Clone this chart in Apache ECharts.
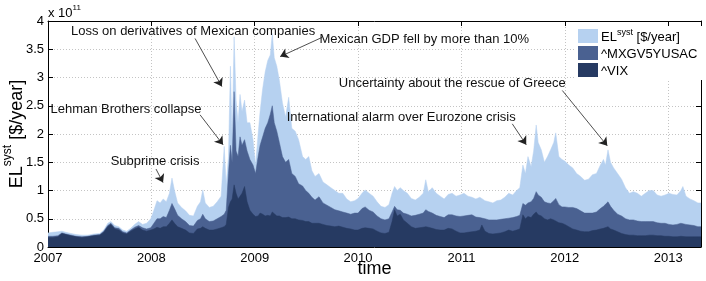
<!DOCTYPE html>
<html>
<head>
<meta charset="utf-8">
<script src="https://cdn.jsdelivr.net/npm/echarts@6/dist/echarts.min.js"></script>
<style>
html,body{margin:0;padding:0;background:#fff;}
#chart{width:706px;height:281px;}
</style>
</head>
<body>
<div id="chart"></div>
<script>
// ---- Data (values in units of 1e11 $/year) ----
const dates = [
'2007-01-01','2007-01-18','2007-02-05','2007-02-19','2007-03-05','2007-03-23','2007-04-10','2007-05-01','2007-05-22','2007-06-12',
'2007-07-03','2007-07-17','2007-07-31','2007-08-11','2007-08-25','2007-09-08','2007-09-22','2007-10-06','2007-10-20','2007-11-03',
'2007-11-17','2007-12-01','2007-12-15','2007-12-30',
'2008-01-10','2008-01-21','2008-02-01','2008-02-12','2008-02-23','2008-03-05','2008-03-14','2008-03-23','2008-04-03','2008-04-17',
'2008-05-01','2008-05-15','2008-05-29','2008-06-12','2008-06-23','2008-07-01','2008-07-10','2008-07-24','2008-08-07','2008-08-21',
'2008-09-04','2008-09-15','2008-09-22','2008-09-30','2008-10-07','2008-10-13','2008-10-20','2008-10-27','2008-11-03','2008-11-10',
'2008-11-17','2008-11-26','2008-12-05','2008-12-15','2008-12-26',
'2009-01-04','2009-01-13','2009-01-20','2009-01-29','2009-02-07','2009-02-16','2009-02-25','2009-03-04','2009-03-11','2009-03-20',
'2009-03-29','2009-04-09','2009-04-20','2009-05-01','2009-05-12','2009-05-24','2009-06-05','2009-06-19','2009-06-30','2009-07-11',
'2009-07-22','2009-08-02','2009-08-16','2009-08-30','2009-09-13','2009-09-27','2009-10-11','2009-10-25','2009-11-08','2009-11-22',
'2009-12-06','2009-12-20',
'2010-01-01','2010-01-15','2010-01-26','2010-02-09','2010-02-23','2010-03-09','2010-03-23','2010-04-06','2010-04-20','2010-05-01',
'2010-05-10','2010-05-19','2010-05-30','2010-06-10','2010-06-24','2010-07-08','2010-07-22','2010-08-05','2010-08-19','2010-08-28',
'2010-09-06','2010-09-20','2010-10-04','2010-10-18','2010-11-01','2010-11-15','2010-11-29','2010-12-13','2010-12-27',
'2011-01-10','2011-01-24','2011-02-07','2011-02-21','2011-03-07','2011-03-14','2011-03-25','2011-04-08','2011-04-22','2011-05-06',
'2011-05-20','2011-06-03','2011-06-17','2011-07-01','2011-07-15','2011-07-26','2011-08-06','2011-08-15','2011-08-24','2011-09-04',
'2011-09-13','2011-09-22','2011-09-29','2011-10-10','2011-10-21','2011-11-01','2011-11-12','2011-11-23','2011-11-30','2011-12-11',
'2011-12-22',
'2012-01-01','2012-01-15','2012-01-29','2012-02-12','2012-02-26','2012-03-11','2012-03-25','2012-04-08','2012-04-22','2012-05-06',
'2012-05-17','2012-05-24','2012-06-02','2012-06-11','2012-06-22','2012-07-06','2012-07-20','2012-08-03','2012-08-17','2012-08-31',
'2012-09-14','2012-09-28','2012-10-12','2012-10-26','2012-11-09','2012-11-23','2012-12-07','2012-12-21',
'2013-01-04','2013-01-18','2013-02-01','2013-02-15','2013-02-22','2013-03-05','2013-03-19','2013-04-02','2013-04-16','2013-04-27'
];
const elSyst = [
0.25,0.26,0.27,0.28,0.26,0.24,0.22,0.21,0.21,0.23,
0.24,0.30,0.42,0.45,0.38,0.36,0.30,0.28,0.33,0.40,
0.45,0.40,0.42,0.50,
0.65,0.82,0.78,0.85,0.80,0.95,1.22,1.00,0.78,0.70,
0.64,0.56,0.55,0.72,0.80,1.01,0.78,0.70,0.72,0.80,
0.90,1.78,1.10,1.60,3.20,1.90,3.72,2.60,2.20,2.70,
2.40,2.60,2.20,2.20,1.90,
1.45,2.00,2.40,2.80,3.10,3.30,3.40,3.78,3.35,3.20,
2.95,2.55,2.30,2.65,2.10,2.05,1.90,1.60,1.55,1.60,
1.35,1.25,1.30,1.15,1.10,1.05,1.00,0.95,0.95,0.85,
0.80,0.82,
0.86,0.95,1.01,0.95,0.90,0.80,0.72,0.70,0.75,0.95,
1.07,1.00,1.05,1.00,0.95,0.86,0.83,0.88,0.95,1.19,
0.98,1.05,0.95,0.90,0.85,0.93,0.95,0.90,0.92,
0.95,0.90,0.88,0.85,0.88,0.90,0.82,0.80,0.78,0.82,
0.83,0.88,0.95,0.92,1.00,1.05,1.45,1.30,1.60,1.42,
1.70,2.16,1.85,1.72,1.50,1.60,1.72,1.85,2.02,1.60,
1.55,
1.52,1.45,1.40,1.30,1.25,1.18,1.20,1.28,1.30,1.45,
1.55,1.45,1.72,1.50,1.40,1.30,1.20,1.05,0.95,0.98,
0.95,0.90,0.95,1.00,1.00,0.92,0.90,0.92,
0.95,0.93,0.92,1.00,1.07,0.90,0.85,0.82,0.78,0.78
];
const mxgv = [
0.19,0.19,0.20,0.25,0.23,0.21,0.19,0.18,0.19,0.21,
0.22,0.28,0.38,0.42,0.34,0.33,0.27,0.25,0.30,0.35,
0.38,0.34,0.32,0.34,
0.42,0.50,0.50,0.54,0.52,0.65,0.77,0.68,0.56,0.50,
0.45,0.38,0.37,0.47,0.50,0.58,0.50,0.45,0.46,0.50,
0.54,0.58,0.65,1.30,1.80,1.50,2.75,1.70,1.60,1.95,
1.80,1.90,1.70,1.55,1.45,
1.30,1.60,1.80,1.95,2.10,2.20,2.35,2.50,2.20,2.05,
1.85,1.60,1.50,1.55,1.30,1.25,1.12,1.08,1.00,0.95,
0.88,0.83,0.89,0.78,0.74,0.70,0.66,0.64,0.62,0.60,
0.58,0.60,
0.60,0.68,0.71,0.65,0.62,0.55,0.50,0.48,0.50,0.62,
0.72,0.66,0.65,0.60,0.58,0.55,0.56,0.58,0.60,0.66,
0.63,0.60,0.56,0.54,0.52,0.57,0.57,0.55,0.54,
0.55,0.56,0.57,0.53,0.52,0.52,0.50,0.48,0.48,0.48,
0.49,0.50,0.51,0.52,0.54,0.56,0.77,0.74,0.78,0.80,
0.86,0.98,0.92,0.88,0.80,0.78,0.77,0.82,0.86,0.75,
0.71,
0.71,0.70,0.70,0.68,0.64,0.60,0.60,0.60,0.62,0.68,
0.72,0.75,0.80,0.72,0.65,0.58,0.55,0.50,0.48,0.48,
0.46,0.45,0.45,0.45,0.45,0.43,0.42,0.42,
0.40,0.39,0.40,0.42,0.43,0.40,0.39,0.38,0.36,0.36
];
const vix = [
0.17,0.17,0.18,0.24,0.22,0.20,0.18,0.17,0.18,0.20,
0.21,0.26,0.36,0.40,0.32,0.30,0.25,0.23,0.28,0.32,
0.35,0.30,0.28,0.30,
0.32,0.35,0.33,0.36,0.36,0.42,0.48,0.42,0.36,0.33,
0.30,0.25,0.24,0.32,0.33,0.36,0.33,0.30,0.30,0.32,
0.34,0.36,0.40,0.70,0.80,0.85,1.10,0.95,0.85,0.90,
0.95,1.07,0.80,0.65,0.58,
0.54,0.55,0.60,0.58,0.55,0.56,0.55,0.62,0.60,0.55,
0.55,0.52,0.52,0.53,0.50,0.50,0.48,0.47,0.45,0.45,
0.42,0.42,0.42,0.40,0.38,0.37,0.36,0.37,0.35,0.33,
0.32,0.30,
0.30,0.33,0.34,0.33,0.32,0.28,0.25,0.24,0.26,0.45,
0.66,0.55,0.58,0.48,0.42,0.36,0.33,0.34,0.35,0.36,
0.35,0.33,0.31,0.30,0.30,0.33,0.32,0.28,0.25,
0.25,0.26,0.27,0.28,0.30,0.39,0.28,0.24,0.23,0.24,
0.25,0.27,0.30,0.28,0.30,0.32,0.57,0.50,0.54,0.52,
0.58,0.62,0.57,0.55,0.50,0.48,0.50,0.48,0.46,0.43,
0.42,
0.40,0.36,0.32,0.30,0.28,0.27,0.27,0.29,0.30,0.32,
0.33,0.34,0.36,0.32,0.30,0.27,0.24,0.22,0.21,0.21,
0.20,0.20,0.20,0.21,0.21,0.20,0.20,0.19,
0.19,0.18,0.18,0.19,0.20,0.18,0.18,0.18,0.18,0.18
];
const seriesNames = ['ELsyst', '^MXGV5YUSAC', '^VIX'];
const yearTicks = [2007, 2008, 2009, 2010, 2011, 2012, 2013];
// annotations: text, text centre, arrow start, arrow tip (decimal year, value)
const annotations = [
  {text: 'Loss on derivatives of Mexican companies', at: [2008.404, 3.81], from: [2008.423, 3.69], to: [2008.682, 2.84]},
  {text: 'Mexican GDP fell by more than 10%', at: [2010.640, 3.67], from: [2009.652, 3.71], to: [2009.246, 3.37]},
  {text: 'Lehman Brothers collapse', at: [2007.755, 2.43], from: [2008.471, 2.34], to: [2008.694, 1.81]},
  {text: 'Subprime crisis', at: [2008.036, 1.51], from: [2008.045, 1.38], to: [2008.113, 1.14]},
  {text: 'International alarm over Eurozone crisis', at: [2010.417, 2.30], from: [2011.492, 2.18], to: [2011.627, 1.81]},
  {text: 'Uncertainty about the rescue of Greece', at: [2010.911, 2.89], from: [2011.976, 2.77], to: [2012.411, 1.79]}
];

function toYear(s) {
  const d = new Date(s + 'T00:00:00Z');
  const y = d.getUTCFullYear();
  const a = Date.UTC(y, 0, 1), b = Date.UTC(y + 1, 0, 1);
  return y + (d.getTime() - a) / (b - a);
}
const xs = dates.map(toYear);
const xEnd = xs[xs.length - 1];
const pairs = arr => xs.map((x, i) => [x, arr[i]]);

const FONT = '"Liberation Sans", Arial, Helvetica, sans-serif';
const colors = ['#b6d1f0', '#4a6191', '#263a62'];

const chart = echarts.init(document.getElementById('chart'), null, {renderer: 'canvas'});

function areaSeries(name, data, color, z) {
  return {
    name, type: 'line', data, showSymbol: false, symbol: 'none',
    lineStyle: {width: 0.5, color}, itemStyle: {color},
    areaStyle: {color, opacity: 1}, z, animation: false, silent: true
  };
}

const option = {
  animation: false,
  textStyle: {fontFamily: FONT},
  grid: {left: 48, right: 5, top: 21, bottom: 34, containLabel: false, outerBoundsMode: 'none'},
  legend: {
    orient: 'vertical', left: 575, top: 26, padding: [2, 6, 2, 3],
    backgroundColor: '#fff', itemWidth: 20, itemHeight: 14, itemGap: 2,
    icon: 'rect', z: 20,
    data: seriesNames,
    formatter: n => n === 'ELsyst' ? '{t|EL}{s|syst}{t| [$/year]}' : '{t|' + n + '}',
    textStyle: {
      fontFamily: FONT, color: '#000', fontSize: 13, padding: [0, 0, 0, -2],
      rich: {t: {fontSize: 13, fontFamily: FONT, color: '#000', lineHeight: 16, verticalAlign: 'bottom'},
             s: {fontSize: 9, fontFamily: FONT, color: '#000', verticalAlign: 'top', lineHeight: 6}}
    }
  },
  xAxis: [{
    type: 'value', min: 2007, max: xEnd, interval: 1,
    name: 'time', nameLocation: 'middle', nameGap: 13, nameMoveOverlap: false,
    nameTextStyle: {fontSize: 18, color: '#000', fontFamily: FONT},
    axisLine: {show: true, onZero: false, lineStyle: {color: '#000', width: 1}},
    axisTick: {show: true, inside: true, length: 5, lineStyle: {color: '#000'}},
    axisLabel: {color: '#000', fontSize: 13, margin: 5, fontFamily: FONT, showMaxLabel: false,
      formatter: v => yearTicks.indexOf(Math.round(v)) >= 0 && Math.abs(v - Math.round(v)) < 1e-6 ? String(Math.round(v)) : ''},
    splitLine: {show: true, lineStyle: {color: '#c4c4c4', type: [1, 2], width: 1}}
  }, {
    type: 'value', position: 'top', min: 2007, max: xEnd, interval: 1,
    axisLine: {show: true, onZero: false, lineStyle: {color: '#000', width: 1}},
    axisTick: {show: true, inside: true, length: 5, lineStyle: {color: '#000'}},
    axisLabel: {show: false}, splitLine: {show: false}
  }],
  yAxis: [{
    type: 'value', min: 0, max: 4, interval: 0.5,
    name: '{n|EL}{s|syst}{n| [$/year]}', nameLocation: 'middle', nameGap: 22, nameMoveOverlap: false,
    nameTextStyle: {color: '#000', fontFamily: FONT,
      rich: {n: {fontSize: 18, fontFamily: FONT, color: '#000', lineHeight: 24, verticalAlign: 'bottom'},
             s: {fontSize: 12, fontFamily: FONT, color: '#000', verticalAlign: 'top', lineHeight: 8}}},
    axisLine: {show: true, onZero: false, lineStyle: {color: '#000', width: 1}},
    axisTick: {show: true, inside: true, length: 5, lineStyle: {color: '#000'}},
    axisLabel: {color: '#000', fontSize: 13, margin: 4, fontFamily: FONT},
    splitLine: {show: true, lineStyle: {color: '#c4c4c4', type: [1, 2], width: 1}}
  }, {
    type: 'value', position: 'right', min: 0, max: 4, interval: 0.5,
    axisLine: {show: true, onZero: false, lineStyle: {color: '#000', width: 1}},
    axisTick: {show: true, inside: true, length: 5, lineStyle: {color: '#000'}},
    axisLabel: {show: false}, splitLine: {show: false}
  }],
  series: [
    areaSeries(seriesNames[0], pairs(elSyst), colors[0], 2),
    areaSeries(seriesNames[1], pairs(mxgv), colors[1], 3),
    areaSeries(seriesNames[2], pairs(vix), colors[2], 4),
    {
      name: 'annotations', type: 'line', data: [], z: 10, silent: true,
      markLine: {
        silent: true, symbol: ['none', 'arrow'], symbolSize: 8,
        lineStyle: {color: '#222', width: 0.8, type: 'solid'},
        label: {show: false},
        data: annotations.map(a => [{coord: a.from}, {coord: a.to}])
      },
      markPoint: {
        silent: true, symbol: 'circle', symbolSize: 1,
        itemStyle: {color: 'rgba(0,0,0,0)'},
        label: {show: true, position: 'inside', color: '#111', fontSize: 13, fontFamily: FONT,
          formatter: p => p.name},
        data: annotations.map(a => ({name: a.text, coord: a.at}))
      }
    }
  ],
  graphic: [{
    type: 'text', left: 48, top: 4, z: 30,
    style: {
      text: '{a|x 10}{b|11}',
      rich: {a: {fontSize: 13, fontFamily: FONT, fill: '#000', lineHeight: 16, verticalAlign: 'bottom'},
             b: {fontSize: 8, fontFamily: FONT, fill: '#000', verticalAlign: 'top', lineHeight: 6}}
    }
  }]
};
chart.setOption(option);
</script>
</body>
</html>
